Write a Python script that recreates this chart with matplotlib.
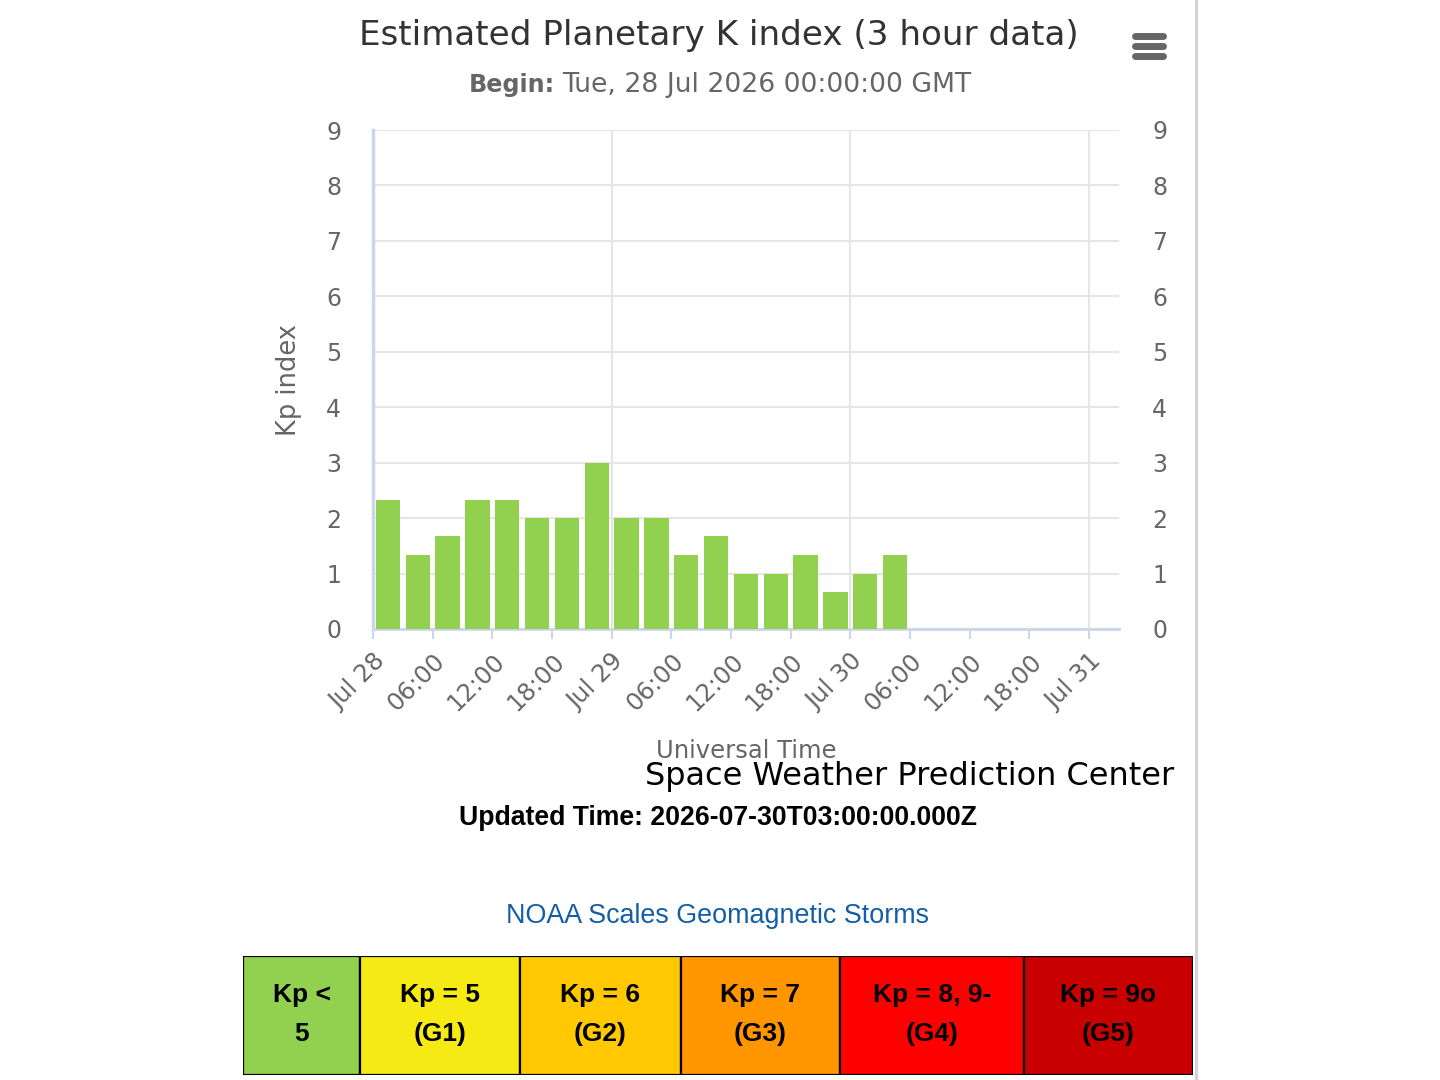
import numpy as np
from matplotlib import pyplot as plt
from matplotlib.patches import Rectangle
from matplotlib.lines import Line2D

# Kp values, one per 3 hour interval starting Jul 28 00:00 UT
bar_start_hours = [0, 3, 6, 9, 12, 15, 18, 21, 24, 27, 30, 33, 36, 39, 42, 45, 48, 51]
kp_values = [2.33, 1.33, 1.67, 2.33, 2.33, 2.0, 2.0, 3.0, 2.0, 2.0,
             1.33, 1.67, 1.0, 1.0, 1.33, 0.67, 1.0, 1.33]

tick_hours = [0, 6, 12, 18, 24, 30, 36, 42, 48, 54, 60, 66, 72]
tick_labels = ['Jul 28', '06:00', '12:00', '18:00', 'Jul 29', '06:00', '12:00',
               '18:00', 'Jul 30', '06:00', '12:00', '18:00', 'Jul 31']
day_hours = [24, 48, 72]

scale_labels = [('Kp <', '5'), ('Kp = 5', '(G1)'), ('Kp = 6', '(G2)'),
                ('Kp = 7', '(G3)'), ('Kp = 8, 9-', '(G4)'), ('Kp = 9o', '(G5)')]
scale_colors = ['#92d050', '#f6ea14', '#ffc800', '#ff9600', '#ff0000', '#c80000']
scale_edges = [243, 360, 520, 681, 840, 1024, 1193]

W, H = 1440, 1080
fig = plt.figure(figsize=(W / 100, H / 100), dpi=100)


def fx(x):
    return x / W


def fy(y):
    return 1 - y / H


gray = '#666666'
axis_blue = '#ccd6eb'
grid_col = '#e6e6e6'
chart_font = 'DejaVu Sans'
page_font = 'Liberation Sans'

# main plot
left, right, top, bottom = 373, 1119, 130, 629
ax = fig.add_axes([fx(left), fy(bottom), (right - left) / W, (bottom - top) / H])
hour_px = (1089 - 373) / 72.0
ax.set_xlim(0, (right - left) / hour_px)
ax.set_ylim(0, 9)

centers = np.array(bar_start_hours) + 1.5
ax.bar(centers, kp_values, width=2.45, color='#92d050', zorder=3)

ax.set_yticks(range(10))
ax.grid(axis='y', color=grid_col, linewidth=1.5, zorder=0)
for d in day_hours:
    ax.axvline(d, color=grid_col, linewidth=1.5, zorder=0)

for s in ['top', 'right']:
    ax.spines[s].set_visible(False)
ax.spines['left'].set_color(axis_blue)
ax.spines['left'].set_linewidth(2.5)
ax.spines['bottom'].set_color(axis_blue)
ax.spines['bottom'].set_linewidth(2)

ax.set_xticks(tick_hours)
ax.set_xticklabels(tick_labels, rotation=45, ha='right', va='top',
                   rotation_mode='anchor', fontsize=17.5, color=gray,
                   family=chart_font)
ax.tick_params(axis='x', direction='out', length=7.5, width=1.5,
               color=axis_blue, pad=7)
ax.tick_params(axis='y', length=0, pad=23, labelsize=17, labelcolor=gray)
for lab in ax.get_yticklabels():
    lab.set_family(chart_font)

ax2 = ax.twinx()
ax2.set_ylim(0, 9)
ax2.set_yticks(range(10))
ax2.tick_params(axis='y', length=0, pad=24, labelsize=17, labelcolor=gray)
for s in ax2.spines.values():
    s.set_visible(False)

fig.text(fx(289), fy(380), 'Kp index', rotation=90, ha='center', va='center',
         fontsize=18.5, color=gray, family=chart_font)

# titles
fig.text(fx(719), fy(36), 'Estimated Planetary K index (3 hour data)',
         ha='center', va='center', fontsize=24.6, color='#333333',
         family=chart_font)
fig.text(fx(469), fy(85), 'Begin:', ha='left', va='center', fontsize=17.2,
         color=gray, weight='bold', family=chart_font)
fig.text(fx(562), fy(85), 'Tue, 28 Jul 2026 00:00:00 GMT', ha='left',
         va='center', fontsize=19.2, color=gray, family=chart_font)

fig.text(fx(746), fy(751), 'Universal Time', ha='center', va='center',
         fontsize=17.5, color=gray, family=chart_font)
fig.text(fx(910), fy(777), 'Space Weather Prediction Center', ha='center',
         va='center', fontsize=23, color='black', family=chart_font)
fig.text(fx(718), fy(818), 'Updated Time: 2026-07-30T03:00:00.000Z',
         ha='center', va='center', fontsize=19.2, color='black',
         weight='bold', family=page_font)
fig.text(fx(718), fy(916), 'NOAA Scales Geomagnetic Storms', ha='center',
         va='center', fontsize=19.4, color='#145ea8', family=page_font)

# menu icon
for y in [36, 46, 56]:
    fig.add_artist(Line2D([fx(1135), fx(1163)], [fy(y), fy(y)], color=gray,
                          linewidth=5, solid_capstyle='round'))

# page border on the right
fig.add_artist(Line2D([fx(1196), fx(1196)], [0, 1], color='#d4d4d4',
                      linewidth=2.2))

# NOAA scale table
tab = fig.add_axes([fx(243), fy(1075), (1193 - 243) / W, (1075 - 956) / H])
tab.set_xlim(243, 1193)
tab.set_ylim(1075, 956)
tab.axis('off')
for i in range(len(scale_colors)):
    x0, x1 = scale_edges[i], scale_edges[i + 1]
    tab.add_patch(Rectangle((x0, 956), x1 - x0, 119, facecolor=scale_colors[i],
                            edgecolor='black', linewidth=1.6))
    xc = (x0 + x1) / 2
    tab.text(xc, 995, scale_labels[i][0], ha='center', va='center',
             fontsize=19, weight='bold', family=page_font)
    tab.text(xc, 1034, scale_labels[i][1], ha='center', va='center',
             fontsize=19, weight='bold', family=page_font)

fig.savefig('out.png', dpi=100)
